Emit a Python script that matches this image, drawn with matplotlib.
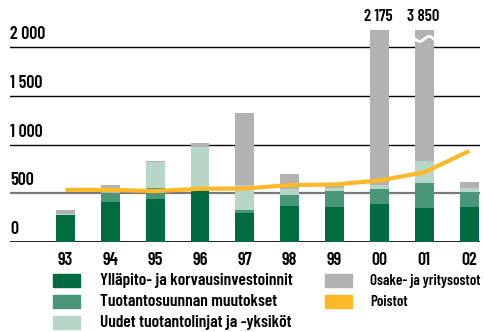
import numpy as np
import matplotlib.pyplot as plt
from matplotlib.patches import Rectangle

plt.rcParams['font.family'] = ['Barlow Condensed', 'DejaVu Sans']
plt.rcParams['font.weight'] = 600

# Investoinnit ja poistot, milj. euroa
years = ['93', '94', '95', '96', '97', '98', '99', '00', '01', '02']
yllapito = [275, 412, 445, 521, 302, 374, 364, 394, 353, 364]
tuotanto = [0, 90, 113, 10, 31, 113, 164, 145, 248, 144]
uudet = [12, 0, 262, 444, 247, 52, 21, 41, 230, 51]
osakeostot = [43, 78, 11, 38, 742, 155, 24, 1595, 3019, 52]
poistot = [535, 535, 522, 546, 549, 584, 590, 631, 715, 934]

series_names = ['Ylläpito- ja korvausinvestoinnit', 'Tuotantosuunnan muutokset',
                'Uudet tuotantolinjat ja -yksiköt', 'Osake- ja yritysostot']
line_name = 'Poistot'
colors = ['#006b40', '#4a9678', '#b8d6c8', '#b2b2b2']
line_color = '#fdb827'
yticks = [0, 500, 1000, 1500, 2000]

fig = plt.figure(figsize=(4.84, 3.32), dpi=100)
ax = fig.add_axes([10 / 484, 1 - 242 / 332, 470 / 484, 212 / 332])

x = np.arange(len(years))
totals = np.array(yllapito) + tuotanto + uudet + osakeostot
ymax = totals[7]

# vaakaviivat
for t in yticks:
    if t == 500:
        ax.axhline(t, color='#7a7a7a', lw=1.6, zorder=1)
    else:
        ax.axhline(t, color='black', lw=1.2 if t == 0 else 1.0, zorder=1)
    ax.text(0.0, t + 40, f'{t:,}'.replace(',', ' '), transform=ax.get_yaxis_transform(),
            ha='left', va='bottom', fontsize=13)

bottom = np.zeros(len(years))
for vals, c in zip([yllapito, tuotanto, uudet, osakeostot], colors):
    ax.bar(x, vals, width=0.42, bottom=bottom, color=c, zorder=2, linewidth=0)
    bottom += vals

ax.plot(x, poistot, color=line_color, lw=3.0, zorder=3, solid_capstyle='butt')

# katkoviiva korkeaan pylvääseen
for i in np.where(totals > ymax)[0]:
    wx = np.linspace(i - 0.21, i + 0.21, 40)
    wy = ymax * 0.958 + 25 * np.sin((wx - i) / 0.21 * np.pi)
    ax.plot(wx, wy, color='white', lw=2.0, zorder=4)

# arvot pylväiden yläpuolelle
for i in np.where(totals >= ymax)[0]:
    ax.text(i - 0.03, ymax + 60, f'{totals[i]:,}'.replace(',', ' '), ha='center', va='bottom',
            fontsize=12, clip_on=False)

ax.set_xlim(-1.233, 9.24)
ax.set_ylim(0, ymax)
ax.set_xticks(x)
ax.set_xticklabels(years, fontsize=13)
ax.tick_params(axis='x', length=0, pad=7)
ax.set_yticks([])
for s in ax.spines.values():
    s.set_visible(False)

# selite
legend_items = list(zip(series_names[:3], colors[:3]))
for row, (name, c) in enumerate(legend_items):
    y = 1 - (274 + 21 * row + 13) / 332
    fig.patches.append(Rectangle((53 / 484, y), 27 / 484, 13 / 332, color=c,
                                 transform=fig.transFigure))
    fig.text(100 / 484, y + 6.5 / 332, name, fontsize=12.5, va='center')
for row, (name, c) in enumerate([(series_names[3], colors[3]), (line_name, line_color)]):
    y = 1 - (274 + 21 * row + 13) / 332
    fig.patches.append(Rectangle((325 / 484, y), 27 / 484, 13 / 332, color=c,
                                 transform=fig.transFigure))
    fig.text(370 / 484, y + 6.5 / 332, name, fontsize=10.8, va='center')

fig.savefig('out.png', dpi=100)
